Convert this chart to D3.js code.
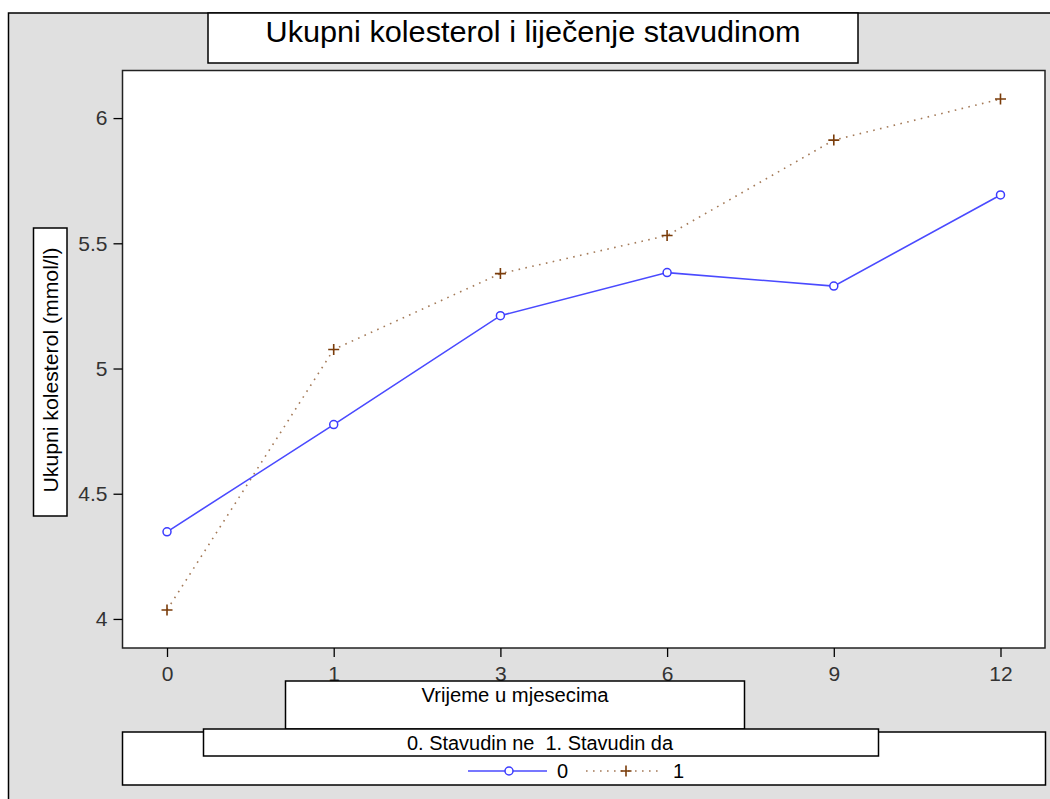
<!DOCTYPE html>
<html><head><meta charset="utf-8">
<script src="https://cdn.jsdelivr.net/npm/d3@7"></script>
<style>html,body{margin:0;padding:0;background:#fff;}text{font-family:"Liberation Sans",Arial,sans-serif;white-space:pre;}</style>
</head><body>
<svg id="chart" width="1050" height="799"></svg>
<script>
const months = ["0","1","3","6","9","12"];
const stavudinNe = [4.348, 4.776, 5.211, 5.383, 5.329, 5.693];
const stavudinDa = [4.036, 5.076, 5.379, 5.531, 5.912, 6.076];
const yTicks = [4, 4.5, 5, 5.5, 6];
const titleText = "Ukupni kolesterol i liječenje stavudinom";
const xLabel = "Vrijeme u mjesecima";
const yLabel = "Ukupni kolesterol (mmol/l)";
const legendTitle = "0. Stavudin ne  1. Stavudin da";
const seriesNames = ["0", "1"];

const svg = d3.select("#chart");
const plot = {x0:122.5, y0:70.5, x1:1045, y1:648};

// outer frame
svg.append("rect").attr("x",8.5).attr("y",13).attr("width",1100).attr("height",900)
  .attr("fill","#e0e0e0").attr("stroke","#000").attr("stroke-width",1.5);

// title box
svg.append("rect").attr("x",208).attr("y",13).attr("width",650).attr("height",50)
  .attr("fill","#fff").attr("stroke","#000").attr("stroke-width",1.5);
svg.append("text").attr("x",533).attr("y",42).attr("text-anchor","middle")
  .attr("font-size",30).attr("fill","#000").attr("textLength",535).attr("lengthAdjust","spacingAndGlyphs")
  .text(titleText);

// plot area
svg.append("rect").attr("x",plot.x0).attr("y",plot.y0).attr("width",plot.x1-plot.x0).attr("height",plot.y1-plot.y0)
  .attr("fill","#fff").attr("stroke","#222").attr("stroke-width",1.5);

const x = d3.scalePoint().domain(months).range([plot.x0, plot.x1]).padding(0.267);
const y = d3.scaleLinear().domain([3.884, 6.19]).range([plot.y1, plot.y0]);

// axes
const xAxis = svg.append("g").attr("transform",`translate(0,${plot.y1})`)
  .call(d3.axisBottom(x).tickSize(9).tickPadding(9));
xAxis.select(".domain").remove();
xAxis.selectAll("line").attr("stroke","#000").attr("stroke-width",1.3);
xAxis.selectAll("text").attr("font-size",21).attr("fill","#333").attr("font-family","Liberation Sans, Arial, sans-serif");

const yAxis = svg.append("g").attr("transform",`translate(${plot.x0},0)`)
  .call(d3.axisLeft(y).tickValues(yTicks).tickFormat(d=>String(d)).tickSize(9).tickPadding(6));
yAxis.select(".domain").remove();
yAxis.selectAll("line").attr("stroke","#000").attr("stroke-width",1.3);
yAxis.selectAll("text").attr("font-size",21).attr("fill","#333").attr("font-family","Liberation Sans, Arial, sans-serif");

// y label box
svg.append("rect").attr("x",33.5).attr("y",228).attr("width",33.5).attr("height",288)
  .attr("fill","#fff").attr("stroke","#000").attr("stroke-width",1.5);
svg.append("text").attr("transform","translate(57.5,370) rotate(-90)").attr("text-anchor","middle")
  .attr("font-size",20).attr("fill","#000").attr("textLength",245).attr("lengthAdjust","spacingAndGlyphs")
  .text(yLabel);

// lines
const line = d3.line().x((d,i)=>x(months[i])).y(d=>y(d));
svg.append("path").datum(stavudinDa).attr("d",line).attr("fill","none")
  .attr("stroke","#a47a58").attr("stroke-width",1.6).attr("stroke-dasharray","1.6,5.4");
svg.append("path").datum(stavudinNe).attr("d",line).attr("fill","none")
  .attr("stroke","#4a4aff").attr("stroke-width",1.6);

svg.selectAll(".c0").data(stavudinNe).enter().append("circle")
  .attr("cx",(d,i)=>x(months[i])).attr("cy",d=>y(d)).attr("r",4)
  .attr("fill","#fff").attr("stroke","#3c3cff").attr("stroke-width",1.5);

const plusPath = s => `M${-s},0H${s}M0,${-s}V${s}`;
svg.selectAll(".p1").data(stavudinDa).enter().append("path")
  .attr("transform",(d,i)=>`translate(${x(months[i])},${y(d)})`)
  .attr("d",plusPath(5.5)).attr("stroke","#7a3c0a").attr("stroke-width",1.6).attr("fill","none");

// x label box
svg.append("rect").attr("x",285.5).attr("y",681).attr("width",459).attr("height",48)
  .attr("fill","#fff").attr("stroke","#000").attr("stroke-width",1.5);
svg.append("text").attr("x",515).attr("y",702).attr("text-anchor","middle")
  .attr("font-size",20).attr("fill","#000").attr("textLength",187).attr("lengthAdjust","spacingAndGlyphs")
  .text(xLabel);

// legend
svg.append("rect").attr("x",122.5).attr("y",732).attr("width",923).attr("height",53)
  .attr("fill","#fff").attr("stroke","#000").attr("stroke-width",1.5);
svg.append("rect").attr("x",203.5).attr("y",729).attr("width",675).attr("height",27)
  .attr("fill","#fff").attr("stroke","#000").attr("stroke-width",1.5);
svg.append("text").attr("x",540).attr("y",750).attr("text-anchor","middle")
  .attr("font-size",20).attr("fill","#000").attr("textLength",266).attr("lengthAdjust","spacingAndGlyphs")
  .attr("xml:space","preserve")
  .text(legendTitle);

const ly = 771;
const leg = [
  {name:seriesNames[0], x1:468, x2:547, mx:509, tx:557},
  {name:seriesNames[1], x1:586, x2:662, mx:626, tx:673}
];
svg.append("line").attr("x1",leg[0].x1).attr("x2",leg[0].x2).attr("y1",ly).attr("y2",ly)
  .attr("stroke","#4a4aff").attr("stroke-width",1.6);
svg.append("circle").attr("cx",leg[0].mx).attr("cy",ly).attr("r",4)
  .attr("fill","#fff").attr("stroke","#3c3cff").attr("stroke-width",1.5);
svg.append("line").attr("x1",leg[1].x1).attr("x2",leg[1].x2).attr("y1",ly).attr("y2",ly)
  .attr("stroke","#a47a58").attr("stroke-width",1.6).attr("stroke-dasharray","1.6,5.4");
svg.append("path").attr("transform",`translate(${leg[1].mx},${ly})`).attr("d",plusPath(5.5))
  .attr("stroke","#7a3c0a").attr("stroke-width",1.6).attr("fill","none");
leg.forEach(l=>{
  svg.append("text").attr("x",l.tx).attr("y",ly+7).attr("font-size",20).attr("fill","#000").text(l.name);
});
</script>
</body></html>
